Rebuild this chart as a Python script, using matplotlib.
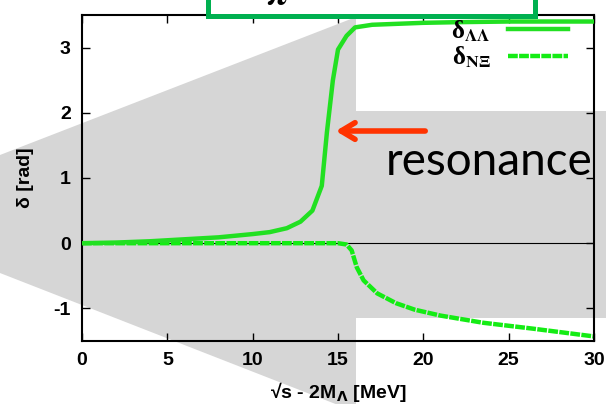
import matplotlib
matplotlib.use('Agg')
import matplotlib.pyplot as plt
from matplotlib.patches import Polygon, Rectangle, FancyArrowPatch
from matplotlib.font_manager import FontProperties

# phase shifts
x_ll = [0, 2, 4, 6, 8, 10, 11, 12, 12.8, 13.5, 14.05, 14.35, 14.7, 15.0, 15.5, 16.0, 17, 18, 20, 22, 25, 30]
y_ll = [0, 0.01, 0.03, 0.06, 0.09, 0.14, 0.17, 0.23, 0.33, 0.5, 0.88, 1.7, 2.5, 2.97, 3.18, 3.31, 3.35, 3.36, 3.38, 3.39, 3.40, 3.40]

x_nx = [0, 5, 10, 15, 15.5, 15.8, 16.1, 16.5, 17.3, 18.4, 19.5, 21, 23.5, 26.4, 30]
y_nx = [0, 0, 0, 0, -0.02, -0.11, -0.37, -0.57, -0.77, -0.92, -1.02, -1.11, -1.22, -1.31, -1.43]

xticks = [0, 5, 10, 15, 20, 25, 30]
yticks = [-1, 0, 1, 2, 3]
labels = [u'\u03b4$_{\\mathbf{\\Lambda\\Lambda}}$', u'\u03b4$_{\\mathbf{N\\Xi}}$']

plt.rcParams['font.family'] = ['Liberation Sans', 'DejaVu Sans']
plt.rcParams['font.weight'] = 'bold'
plt.rcParams['axes.unicode_minus'] = False

W, H = 606, 404
def fp(px, py):
	# pixel position -> figure fraction
	return (px / W, 1 - py / H)

fig = plt.figure(figsize=(6.06, 4.04), dpi=100)

# grey callout shape behind the plot
grey = Polygon([fp(0, 155), fp(356, 17), fp(356, 111), fp(606, 111), fp(606, 318),
                fp(356, 318), fp(356, 412), fp(0, 273)],
               closed=True, transform=fig.transFigure, facecolor='#d6d6d6',
               edgecolor='none', zorder=-5)
fig.patches.append(grey)

ax = fig.add_axes([82 / W, 1 - 341 / H, 512 / W, 326 / H])
ax.set_facecolor('none')

ax.axhline(0, color='black', lw=0.8, zorder=1)
ax.plot(x_ll, y_ll, color='#22e022', lw=3.2, label=labels[0], zorder=3)
ax.plot(x_nx, y_nx, color='#14ec14', lw=3.2, ls=(0, (2.2, 0.3)), label=labels[1], zorder=2)

ax.set_xlim(0, 30)
ax.set_ylim(-1.5, 3.5)
ax.set_xticks(xticks)
ax.set_yticks(yticks)
ax.tick_params(direction='in', length=6, width=1, top=True, right=True,
               labelsize=14, pad=8)
for s in ax.spines.values():
	s.set_linewidth(1.5)

ax.set_xlabel(u'\u221as - 2M$_\\mathbf{\\Lambda}$ [MeV]', fontsize=14, fontweight='bold', labelpad=8)
ax.set_ylabel(u'\u03b4 [rad]', fontsize=14, fontweight='bold', labelpad=14)

leg = ax.legend(loc='upper right', bbox_to_anchor=((568 - 82) / 512, (341 - 18) / 326),
                borderaxespad=0, borderpad=0, markerfirst=False,
                frameon=False, handlelength=2.4, handletextpad=0.7, labelspacing=0.05,
                prop=FontProperties(family='Liberation Serif', weight='bold', size=18,
                                    math_fontfamily='stix'))

# slide overlays: red arrow, label, green box
arrow = FancyArrowPatch(fp(428, 131), fp(333, 131), transform=fig.transFigure,
                        arrowstyle='->,head_length=10,head_width=6', color='#ff3300',
                        lw=4, mutation_scale=1, zorder=10)
fig.patches.append(arrow)

fig.text(386 / W, 1 - 175 / H, 'resonance', family='Lato', fontweight='normal',
         fontsize=33, color='black', ha='left', va='baseline', zorder=10)

box = Rectangle(fp(208, 16), (535 - 208) / W, 40 / H, transform=fig.transFigure,
                facecolor='white', edgecolor='#00b050', lw=3.6, zorder=10)
fig.patches.append(box)
fig.text(278 / W, 1 - 5 / H, r'$\pi$', fontsize=26, math_fontfamily='stix',
         ha='center', va='baseline', zorder=11)

fig.savefig('out.png', dpi=100)
